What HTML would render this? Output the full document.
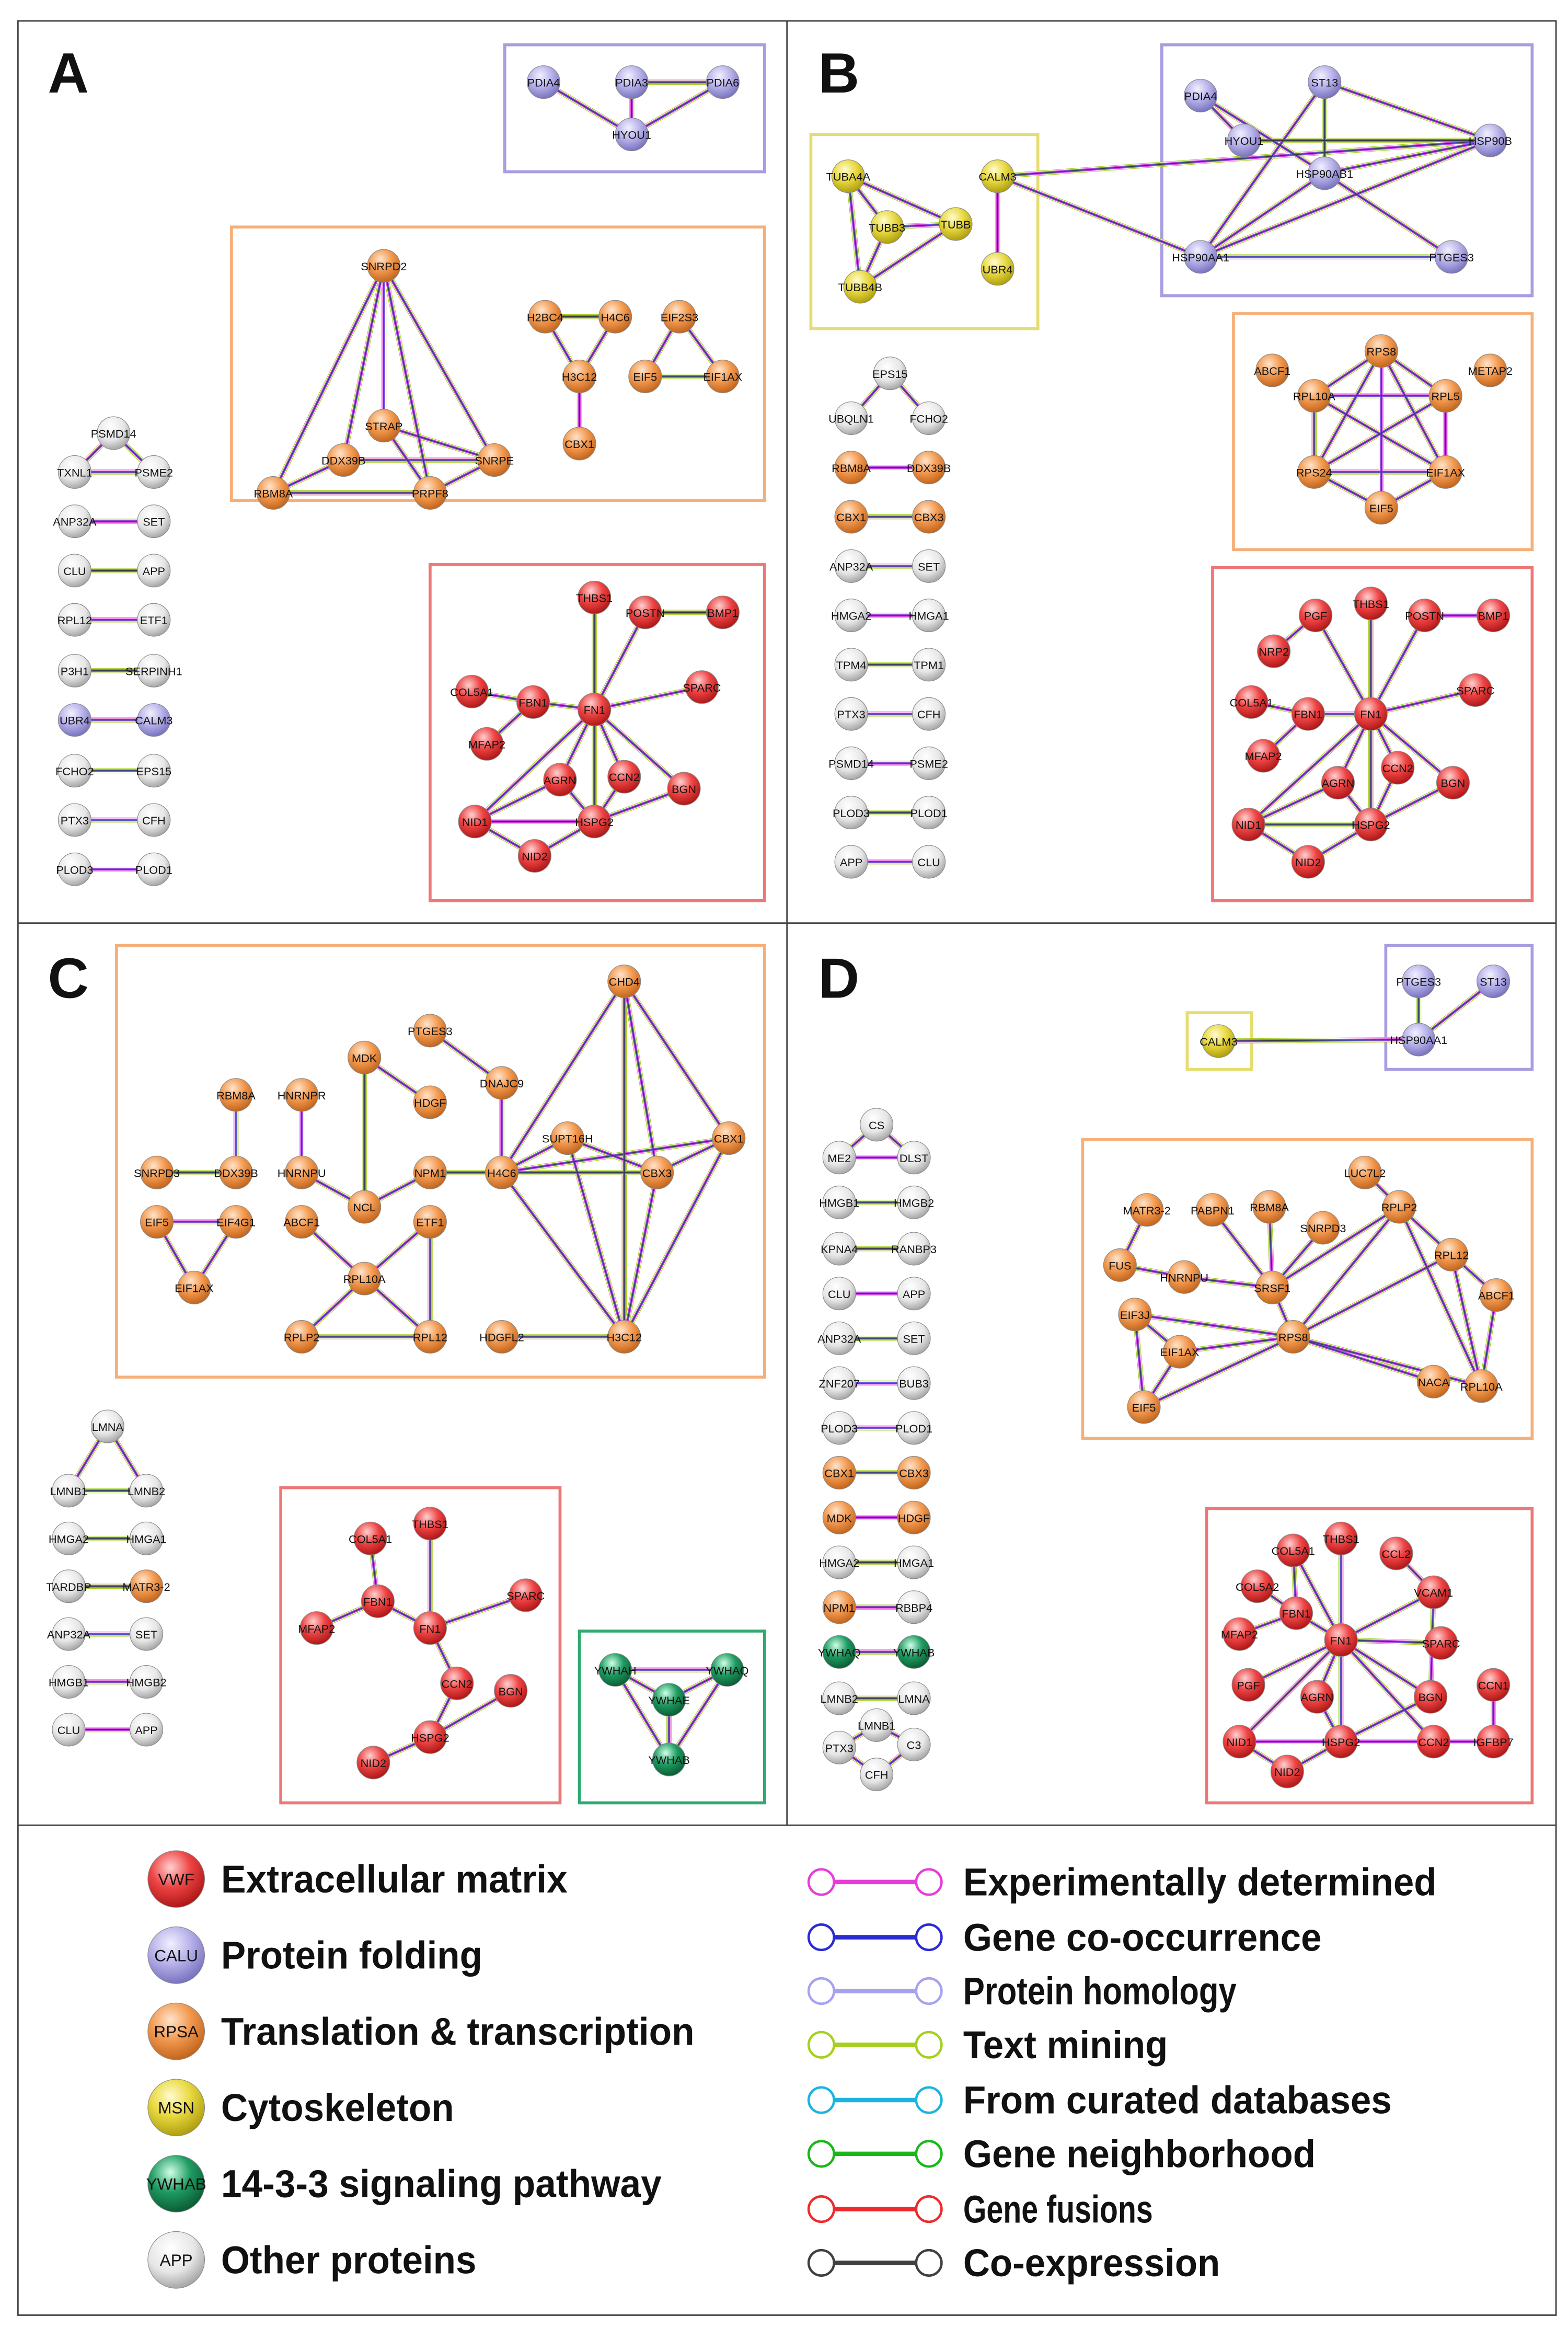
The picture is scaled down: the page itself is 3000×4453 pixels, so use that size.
<!DOCTYPE html>
<html><head><meta charset="utf-8"><style>
html,body{margin:0;padding:0;background:#fff}
svg{display:block}
text{font-family:"Liberation Sans",sans-serif;fill:#111}
.n text{font-size:7.6px;text-anchor:middle}
.r{fill:url(#gr)}.p{fill:url(#gp)}.o{fill:url(#go)}.y{fill:url(#gy)}.g{fill:url(#gg)}.w{fill:url(#gw)}
circle.nd{stroke:#888;stroke-width:.4}
.L{font-size:26px;font-weight:bold;font-family:"Liberation Sans Narrow","Liberation Sans",sans-serif}
.P{font-size:38px;font-weight:bold}
</style></head><body>
<svg width="3000" height="4453" viewBox="0 0 1050 1558.6" xmlns="http://www.w3.org/2000/svg">
<defs>
<radialGradient id="gr" cx="40%" cy="30%" r="70%"><stop offset="0" stop-color="#ffd0d0"/><stop offset=".5" stop-color="#ee4444"/><stop offset="1" stop-color="#b01818"/></radialGradient>
<radialGradient id="gp" cx="40%" cy="30%" r="70%"><stop offset="0" stop-color="#f2f0ff"/><stop offset=".5" stop-color="#b8b3ea"/><stop offset="1" stop-color="#7a74c0"/></radialGradient>
<radialGradient id="go" cx="40%" cy="30%" r="70%"><stop offset="0" stop-color="#ffe4cc"/><stop offset=".5" stop-color="#f39a50"/><stop offset="1" stop-color="#c4661e"/></radialGradient>
<radialGradient id="gy" cx="40%" cy="30%" r="70%"><stop offset="0" stop-color="#fffbd0"/><stop offset=".5" stop-color="#e9d940"/><stop offset="1" stop-color="#b0a010"/></radialGradient>
<radialGradient id="gg" cx="40%" cy="30%" r="70%"><stop offset="0" stop-color="#d0ffe8"/><stop offset=".5" stop-color="#1f9c62"/><stop offset="1" stop-color="#0b5e36"/></radialGradient>
<radialGradient id="gw" cx="40%" cy="30%" r="70%"><stop offset="0" stop-color="#ffffff"/><stop offset=".6" stop-color="#e6e6e6"/><stop offset="1" stop-color="#a8a8a8"/></radialGradient>
<path id="E" fill="none" d="
M423 55L484 55M364 55L423 90M484 55L423 90M423 55L423 90
M257 178L257 285M257 178L230 308M257 178L331 308M257 178L183 330M257 178L288 330M257 285L331 308M230 308L331 308M183 330L288 330M288 330L331 308M257 285L288 330M183 330L230 308
M365 212L412 212M365 212L388 252M412 212L388 252M388 252L388 297
M455 212L432 252M455 212L484 252M432 252L484 252
M398 475L398 400M398 475L432 410M432 410L484 410M398 475L470 460M398 475L357 470M357 470L316 463M357 470L326 498M398 475L375 522M398 475L418 520M398 475L458 528M398 475L318 550M398 475L398 550M318 550L398 550M318 550L358 573M358 573L398 550M375 522L398 550M398 550L458 528M418 520L398 550M318 550L375 522
M76 290L50 316M76 290L103 316M50 316L103 316M50 349L103 349M50 382L103 382M50 415L103 415M50 449L103 449M50 482L103 482M50 516L103 516M50 549L103 549M50 582L103 582
M804 64L833 94M833 94L998 94M887 55L998 94M887 55L887 116M887 55L804 172M887 116L998 94M804 172L998 94M804 172L887 116M804 172L972 172M887 116L972 172M804 64L887 116
M568 118L594 152M568 118L640 150M568 118L576 192M594 152L640 150M594 152L576 192M640 150L576 192M668 118L668 180M668 118L998 94M668 118L804 172
M925 235L880 265M925 235L968 265M925 235L880 316M925 235L968 316M925 235L925 340M880 265L968 265M880 265L880 316M880 265L968 316M968 265L968 316M968 265L880 316M880 316L968 316M880 316L925 340M968 316L925 340
M918 478L918 404M918 478L954 412M954 412L1000 412M918 478L881 412M881 412L853 436M918 478L988 462M918 478L876 478M876 478L838 470M876 478L846 506M918 478L896 524M918 478L936 514M918 478L973 524M918 478L836 552M918 478L918 552M836 552L918 552M836 552L876 577M876 577L918 552M896 524L918 552M918 552L973 524M936 514L918 552M836 552L896 524
M596 250L570 280M596 250L622 280M570 313L622 313M570 346L622 346M570 379L622 379M570 412L622 412M570 445L622 445M570 478L622 478M570 511L622 511M570 544L622 544M570 577L622 577
M158 733L158 785M105 785L158 785M105 818L158 818M105 818L130 862M158 818L130 862M202 733L202 785M202 785L244 808M244 708L244 808M244 708L288 738M288 690L336 725M336 725L336 785M244 808L288 785M288 785L336 785M336 785L418 657M336 785L380 762M336 785L440 785M336 785L418 895M418 657L440 785M418 657L488 762M418 657L418 895M488 762L440 785M488 762L418 895M440 785L418 895M380 762L418 895M380 762L440 785M336 895L418 895M202 818L244 856M288 818L244 856M288 818L288 895M244 856L202 895M244 856L288 895M202 895L288 895M336 785L488 762
M72 955L46 998M72 955L98 998M46 998L98 998M46 1030L98 1030M46 1062L98 1062M46 1094L98 1094M46 1126L98 1126M46 1158L98 1158
M288 1090L288 1020M288 1090L253 1072M253 1072L248 1030M253 1072L212 1090M288 1090L352 1068M288 1090L306 1127M306 1127L288 1163M342 1132L288 1163M288 1163L250 1180
M412 1118L487 1118M412 1118L448 1138M487 1118L448 1138M412 1118L448 1178M487 1118L448 1178M448 1138L448 1178
M950 657L950 696M1000 657L950 696M816 697L950 696
M852 862L812 810M852 862L850 808M852 862L886 822M852 862L793 855M852 862L937 808M852 862L866 895M793 855L750 847M750 847L768 810M914 785L937 808M937 808L972 840M937 808L866 895M937 808L992 928M972 840L1002 867M972 840L992 928M972 840L866 895M1002 867L992 928M866 895L760 880M866 895L790 905M866 895L766 942M866 895L960 925M866 895L992 928M760 880L790 905M760 880L766 942M790 905L766 942
M898 1098L898 1030M898 1098L866 1038M898 1098L868 1080M868 1080L866 1038M868 1080L842 1062M868 1080L830 1094M898 1098L965 1100M960 1066L935 1040M960 1066L958 1136M898 1098L882 1136M898 1098L958 1136M898 1098L830 1166M898 1098L898 1166M898 1098L960 1166M898 1098L836 1128M830 1166L898 1166M830 1166L862 1186M862 1186L898 1166M898 1166L958 1136M898 1166L960 1166M882 1136L898 1166M1000 1128L1000 1166M960 1166L1000 1166M960 1066L898 1098
M587 753L562 775M587 753L612 775M562 775L612 775M562 805L612 805M562 836L612 836M562 866L612 866M562 896L612 896M562 926L612 926M562 956L612 956M562 986L612 986M562 1016L612 1016M562 1046L612 1046M562 1076L612 1076M562 1106L612 1106M562 1137L612 1137M587 1155L562 1170M587 1155L612 1168M562 1170L587 1188M612 1168L587 1188"/>
</defs>
<rect x="0" y="0" width="1050" height="1558.6" fill="#fff"/>
<rect x="12" y="14" width="1030" height="1536" fill="none" stroke="#444" stroke-width="1"/>
<line x1="527" y1="14" x2="527" y2="1222" stroke="#444" stroke-width="1"/>
<line x1="12" y1="618" x2="1042" y2="618" stroke="#444" stroke-width="1"/>
<line x1="12" y1="1222" x2="1042" y2="1222" stroke="#444" stroke-width="1"/>
<text class="P" x="32" y="62">A</text><text class="P" x="548" y="62">B</text>
<text class="P" x="32" y="668">C</text><text class="P" x="548" y="668">D</text>
<g fill="none" stroke-width="2">
<rect x="338" y="30" width="174" height="85" stroke="#a79ee0"/>
<rect x="155" y="152" width="357" height="183" stroke="#f5b07a"/>
<rect x="288" y="378" width="224" height="225" stroke="#ee7878"/>
<rect x="778" y="30" width="248" height="168" stroke="#a79ee0"/>
<rect x="543" y="90" width="152" height="130" stroke="#e6dd70"/>
<rect x="826" y="210" width="200" height="158" stroke="#f5b07a"/>
<rect x="812" y="380" width="214" height="223" stroke="#ee7878"/>
<rect x="78" y="633" width="434" height="289" stroke="#f5b07a"/>
<rect x="188" y="996" width="187" height="211" stroke="#ee7878"/>
<rect x="388" y="1092" width="124" height="115" stroke="#2faa70"/>
<rect x="795" y="678" width="43" height="38" stroke="#e6dd70"/>
<rect x="928" y="633" width="98" height="83" stroke="#a79ee0"/>
<rect x="725" y="763" width="301" height="200" stroke="#f5b07a"/>
<rect x="808" y="1010" width="218" height="197" stroke="#ee7878"/>
</g>
<use href="#E" stroke="#a8d020" stroke-width="3.4"/>
<use href="#E" stroke="#ffffff" stroke-width="2.6"/>
<use href="#E" stroke="#e040d8" stroke-width="1.9"/>
<use href="#E" stroke="#5a58e0" stroke-width="1.1"/>
<use href="#E" stroke="#333" stroke-width=".4"/>
<g class="n">
<!-- A -->
<circle class="nd p" cx="364" cy="55" r="11"/><text x="364" y="58">PDIA4</text>
<circle class="nd p" cx="423" cy="55" r="11"/><text x="423" y="58">PDIA3</text>
<circle class="nd p" cx="484" cy="55" r="11"/><text x="484" y="58">PDIA6</text>
<circle class="nd p" cx="423" cy="90" r="11"/><text x="423" y="93">HYOU1</text>
<circle class="nd o" cx="257" cy="178" r="11"/><text x="257" y="181">SNRPD2</text>
<circle class="nd o" cx="257" cy="285" r="11"/><text x="257" y="288">STRAP</text>
<circle class="nd o" cx="230" cy="308" r="11"/><text x="230" y="311">DDX39B</text>
<circle class="nd o" cx="331" cy="308" r="11"/><text x="331" y="311">SNRPE</text>
<circle class="nd o" cx="183" cy="330" r="11"/><text x="183" y="333">RBM8A</text>
<circle class="nd o" cx="288" cy="330" r="11"/><text x="288" y="333">PRPF8</text>
<circle class="nd o" cx="365" cy="212" r="11"/><text x="365" y="215">H2BC4</text>
<circle class="nd o" cx="412" cy="212" r="11"/><text x="412" y="215">H4C6</text>
<circle class="nd o" cx="388" cy="252" r="11"/><text x="388" y="255">H3C12</text>
<circle class="nd o" cx="388" cy="297" r="11"/><text x="388" y="300">CBX1</text>
<circle class="nd o" cx="455" cy="212" r="11"/><text x="455" y="215">EIF2S3</text>
<circle class="nd o" cx="432" cy="252" r="11"/><text x="432" y="255">EIF5</text>
<circle class="nd o" cx="484" cy="252" r="11"/><text x="484" y="255">EIF1AX</text>
<circle class="nd r" cx="398" cy="400" r="11"/><text x="398" y="403">THBS1</text>
<circle class="nd r" cx="432" cy="410" r="11"/><text x="432" y="413">POSTN</text>
<circle class="nd r" cx="484" cy="410" r="11"/><text x="484" y="413">BMP1</text>
<circle class="nd r" cx="316" cy="463" r="11"/><text x="316" y="466">COL5A1</text>
<circle class="nd r" cx="357" cy="470" r="11"/><text x="357" y="473">FBN1</text>
<circle class="nd r" cx="398" cy="475" r="11"/><text x="398" y="478">FN1</text>
<circle class="nd r" cx="470" cy="460" r="11"/><text x="470" y="463">SPARC</text>
<circle class="nd r" cx="326" cy="498" r="11"/><text x="326" y="501">MFAP2</text>
<circle class="nd r" cx="375" cy="522" r="11"/><text x="375" y="525">AGRN</text>
<circle class="nd r" cx="418" cy="520" r="11"/><text x="418" y="523">CCN2</text>
<circle class="nd r" cx="458" cy="528" r="11"/><text x="458" y="531">BGN</text>
<circle class="nd r" cx="318" cy="550" r="11"/><text x="318" y="553">NID1</text>
<circle class="nd r" cx="398" cy="550" r="11"/><text x="398" y="553">HSPG2</text>
<circle class="nd r" cx="358" cy="573" r="11"/><text x="358" y="576">NID2</text>
<circle class="nd w" cx="76" cy="290" r="11"/><text x="76" y="293">PSMD14</text>
<circle class="nd w" cx="50" cy="316" r="11"/><text x="50" y="319">TXNL1</text>
<circle class="nd w" cx="103" cy="316" r="11"/><text x="103" y="319">PSME2</text>
<circle class="nd w" cx="50" cy="349" r="11"/><text x="50" y="352">ANP32A</text>
<circle class="nd w" cx="103" cy="349" r="11"/><text x="103" y="352">SET</text>
<circle class="nd w" cx="50" cy="382" r="11"/><text x="50" y="385">CLU</text>
<circle class="nd w" cx="103" cy="382" r="11"/><text x="103" y="385">APP</text>
<circle class="nd w" cx="50" cy="415" r="11"/><text x="50" y="418">RPL12</text>
<circle class="nd w" cx="103" cy="415" r="11"/><text x="103" y="418">ETF1</text>
<circle class="nd w" cx="50" cy="449" r="11"/><text x="50" y="452">P3H1</text>
<circle class="nd w" cx="103" cy="449" r="11"/><text x="103" y="452">SERPINH1</text>
<circle class="nd p" cx="50" cy="482" r="11"/><text x="50" y="485">UBR4</text>
<circle class="nd p" cx="103" cy="482" r="11"/><text x="103" y="485">CALM3</text>
<circle class="nd w" cx="50" cy="516" r="11"/><text x="50" y="519">FCHO2</text>
<circle class="nd w" cx="103" cy="516" r="11"/><text x="103" y="519">EPS15</text>
<circle class="nd w" cx="50" cy="549" r="11"/><text x="50" y="552">PTX3</text>
<circle class="nd w" cx="103" cy="549" r="11"/><text x="103" y="552">CFH</text>
<circle class="nd w" cx="50" cy="582" r="11"/><text x="50" y="585">PLOD3</text>
<circle class="nd w" cx="103" cy="582" r="11"/><text x="103" y="585">PLOD1</text>
<!-- B -->
<circle class="nd p" cx="804" cy="64" r="11"/><text x="804" y="67">PDIA4</text>
<circle class="nd p" cx="833" cy="94" r="11"/><text x="833" y="97">HYOU1</text>
<circle class="nd p" cx="887" cy="55" r="11"/><text x="887" y="58">ST13</text>
<circle class="nd p" cx="998" cy="94" r="11"/><text x="998" y="97">HSP90B</text>
<circle class="nd p" cx="887" cy="116" r="11"/><text x="887" y="119">HSP90AB1</text>
<circle class="nd p" cx="804" cy="172" r="11"/><text x="804" y="175">HSP90AA1</text>
<circle class="nd p" cx="972" cy="172" r="11"/><text x="972" y="175">PTGES3</text>
<circle class="nd y" cx="568" cy="118" r="11"/><text x="568" y="121">TUBA4A</text>
<circle class="nd y" cx="668" cy="118" r="11"/><text x="668" y="121">CALM3</text>
<circle class="nd y" cx="594" cy="152" r="11"/><text x="594" y="155">TUBB3</text>
<circle class="nd y" cx="640" cy="150" r="11"/><text x="640" y="153">TUBB</text>
<circle class="nd y" cx="668" cy="180" r="11"/><text x="668" y="183">UBR4</text>
<circle class="nd y" cx="576" cy="192" r="11"/><text x="576" y="195">TUBB4B</text>
<circle class="nd o" cx="925" cy="235" r="11"/><text x="925" y="238">RPS8</text>
<circle class="nd o" cx="852" cy="248" r="11"/><text x="852" y="251">ABCF1</text>
<circle class="nd o" cx="998" cy="248" r="11"/><text x="998" y="251">METAP2</text>
<circle class="nd o" cx="880" cy="265" r="11"/><text x="880" y="268">RPL10A</text>
<circle class="nd o" cx="968" cy="265" r="11"/><text x="968" y="268">RPL5</text>
<circle class="nd o" cx="880" cy="316" r="11"/><text x="880" y="319">RPS24</text>
<circle class="nd o" cx="968" cy="316" r="11"/><text x="968" y="319">EIF1AX</text>
<circle class="nd o" cx="925" cy="340" r="11"/><text x="925" y="343">EIF5</text>
<circle class="nd r" cx="881" cy="412" r="11"/><text x="881" y="415">PGF</text>
<circle class="nd r" cx="918" cy="404" r="11"/><text x="918" y="407">THBS1</text>
<circle class="nd r" cx="954" cy="412" r="11"/><text x="954" y="415">POSTN</text>
<circle class="nd r" cx="1000" cy="412" r="11"/><text x="1000" y="415">BMP1</text>
<circle class="nd r" cx="853" cy="436" r="11"/><text x="853" y="439">NRP2</text>
<circle class="nd r" cx="838" cy="470" r="11"/><text x="838" y="473">COL5A1</text>
<circle class="nd r" cx="876" cy="478" r="11"/><text x="876" y="481">FBN1</text>
<circle class="nd r" cx="918" cy="478" r="11"/><text x="918" y="481">FN1</text>
<circle class="nd r" cx="988" cy="462" r="11"/><text x="988" y="465">SPARC</text>
<circle class="nd r" cx="846" cy="506" r="11"/><text x="846" y="509">MFAP2</text>
<circle class="nd r" cx="896" cy="524" r="11"/><text x="896" y="527">AGRN</text>
<circle class="nd r" cx="936" cy="514" r="11"/><text x="936" y="517">CCN2</text>
<circle class="nd r" cx="973" cy="524" r="11"/><text x="973" y="527">BGN</text>
<circle class="nd r" cx="836" cy="552" r="11"/><text x="836" y="555">NID1</text>
<circle class="nd r" cx="918" cy="552" r="11"/><text x="918" y="555">HSPG2</text>
<circle class="nd r" cx="876" cy="577" r="11"/><text x="876" y="580">NID2</text>
<circle class="nd w" cx="596" cy="250" r="11"/><text x="596" y="253">EPS15</text>
<circle class="nd w" cx="570" cy="280" r="11"/><text x="570" y="283">UBQLN1</text>
<circle class="nd w" cx="622" cy="280" r="11"/><text x="622" y="283">FCHO2</text>
<circle class="nd o" cx="570" cy="313" r="11"/><text x="570" y="316">RBM8A</text>
<circle class="nd o" cx="622" cy="313" r="11"/><text x="622" y="316">DDX39B</text>
<circle class="nd o" cx="570" cy="346" r="11"/><text x="570" y="349">CBX1</text>
<circle class="nd o" cx="622" cy="346" r="11"/><text x="622" y="349">CBX3</text>
<circle class="nd w" cx="570" cy="379" r="11"/><text x="570" y="382">ANP32A</text>
<circle class="nd w" cx="622" cy="379" r="11"/><text x="622" y="382">SET</text>
<circle class="nd w" cx="570" cy="412" r="11"/><text x="570" y="415">HMGA2</text>
<circle class="nd w" cx="622" cy="412" r="11"/><text x="622" y="415">HMGA1</text>
<circle class="nd w" cx="570" cy="445" r="11"/><text x="570" y="448">TPM4</text>
<circle class="nd w" cx="622" cy="445" r="11"/><text x="622" y="448">TPM1</text>
<circle class="nd w" cx="570" cy="478" r="11"/><text x="570" y="481">PTX3</text>
<circle class="nd w" cx="622" cy="478" r="11"/><text x="622" y="481">CFH</text>
<circle class="nd w" cx="570" cy="511" r="11"/><text x="570" y="514">PSMD14</text>
<circle class="nd w" cx="622" cy="511" r="11"/><text x="622" y="514">PSME2</text>
<circle class="nd w" cx="570" cy="544" r="11"/><text x="570" y="547">PLOD3</text>
<circle class="nd w" cx="622" cy="544" r="11"/><text x="622" y="547">PLOD1</text>
<circle class="nd w" cx="570" cy="577" r="11"/><text x="570" y="580">APP</text>
<circle class="nd w" cx="622" cy="577" r="11"/><text x="622" y="580">CLU</text>
<!-- C -->
<circle class="nd o" cx="418" cy="657" r="11"/><text x="418" y="660">CHD4</text>
<circle class="nd o" cx="288" cy="690" r="11"/><text x="288" y="693">PTGES3</text>
<circle class="nd o" cx="244" cy="708" r="11"/><text x="244" y="711">MDK</text>
<circle class="nd o" cx="336" cy="725" r="11"/><text x="336" y="728">DNAJC9</text>
<circle class="nd o" cx="158" cy="733" r="11"/><text x="158" y="736">RBM8A</text>
<circle class="nd o" cx="202" cy="733" r="11"/><text x="202" y="736">HNRNPR</text>
<circle class="nd o" cx="288" cy="738" r="11"/><text x="288" y="741">HDGF</text>
<circle class="nd o" cx="380" cy="762" r="11"/><text x="380" y="765">SUPT16H</text>
<circle class="nd o" cx="488" cy="762" r="11"/><text x="488" y="765">CBX1</text>
<circle class="nd o" cx="105" cy="785" r="11"/><text x="105" y="788">SNRPD3</text>
<circle class="nd o" cx="158" cy="785" r="11"/><text x="158" y="788">DDX39B</text>
<circle class="nd o" cx="202" cy="785" r="11"/><text x="202" y="788">HNRNPU</text>
<circle class="nd o" cx="288" cy="785" r="11"/><text x="288" y="788">NPM1</text>
<circle class="nd o" cx="336" cy="785" r="11"/><text x="336" y="788">H4C6</text>
<circle class="nd o" cx="440" cy="785" r="11"/><text x="440" y="788">CBX3</text>
<circle class="nd o" cx="244" cy="808" r="11"/><text x="244" y="811">NCL</text>
<circle class="nd o" cx="105" cy="818" r="11"/><text x="105" y="821">EIF5</text>
<circle class="nd o" cx="158" cy="818" r="11"/><text x="158" y="821">EIF4G1</text>
<circle class="nd o" cx="202" cy="818" r="11"/><text x="202" y="821">ABCF1</text>
<circle class="nd o" cx="288" cy="818" r="11"/><text x="288" y="821">ETF1</text>
<circle class="nd o" cx="244" cy="856" r="11"/><text x="244" y="859">RPL10A</text>
<circle class="nd o" cx="130" cy="862" r="11"/><text x="130" y="865">EIF1AX</text>
<circle class="nd o" cx="202" cy="895" r="11"/><text x="202" y="898">RPLP2</text>
<circle class="nd o" cx="288" cy="895" r="11"/><text x="288" y="898">RPL12</text>
<circle class="nd o" cx="336" cy="895" r="11"/><text x="336" y="898">HDGFL2</text>
<circle class="nd o" cx="418" cy="895" r="11"/><text x="418" y="898">H3C12</text>
<circle class="nd w" cx="72" cy="955" r="11"/><text x="72" y="958">LMNA</text>
<circle class="nd w" cx="46" cy="998" r="11"/><text x="46" y="1001">LMNB1</text>
<circle class="nd w" cx="98" cy="998" r="11"/><text x="98" y="1001">LMNB2</text>
<circle class="nd w" cx="46" cy="1030" r="11"/><text x="46" y="1033">HMGA2</text>
<circle class="nd w" cx="98" cy="1030" r="11"/><text x="98" y="1033">HMGA1</text>
<circle class="nd w" cx="46" cy="1062" r="11"/><text x="46" y="1065">TARDBP</text>
<circle class="nd o" cx="98" cy="1062" r="11"/><text x="98" y="1065">MATR3-2</text>
<circle class="nd w" cx="46" cy="1094" r="11"/><text x="46" y="1097">ANP32A</text>
<circle class="nd w" cx="98" cy="1094" r="11"/><text x="98" y="1097">SET</text>
<circle class="nd w" cx="46" cy="1126" r="11"/><text x="46" y="1129">HMGB1</text>
<circle class="nd w" cx="98" cy="1126" r="11"/><text x="98" y="1129">HMGB2</text>
<circle class="nd w" cx="46" cy="1158" r="11"/><text x="46" y="1161">CLU</text>
<circle class="nd w" cx="98" cy="1158" r="11"/><text x="98" y="1161">APP</text>
<circle class="nd r" cx="288" cy="1020" r="11"/><text x="288" y="1023">THBS1</text>
<circle class="nd r" cx="248" cy="1030" r="11"/><text x="248" y="1033">COL5A1</text>
<circle class="nd r" cx="352" cy="1068" r="11"/><text x="352" y="1071">SPARC</text>
<circle class="nd r" cx="253" cy="1072" r="11"/><text x="253" y="1075">FBN1</text>
<circle class="nd r" cx="288" cy="1090" r="11"/><text x="288" y="1093">FN1</text>
<circle class="nd r" cx="212" cy="1090" r="11"/><text x="212" y="1093">MFAP2</text>
<circle class="nd r" cx="306" cy="1127" r="11"/><text x="306" y="1130">CCN2</text>
<circle class="nd r" cx="342" cy="1132" r="11"/><text x="342" y="1135">BGN</text>
<circle class="nd r" cx="288" cy="1163" r="11"/><text x="288" y="1166">HSPG2</text>
<circle class="nd r" cx="250" cy="1180" r="11"/><text x="250" y="1183">NID2</text>
<circle class="nd g" cx="412" cy="1118" r="11"/><text x="412" y="1121">YWHAH</text>
<circle class="nd g" cx="487" cy="1118" r="11"/><text x="487" y="1121">YWHAQ</text>
<circle class="nd g" cx="448" cy="1138" r="11"/><text x="448" y="1141">YWHAE</text>
<circle class="nd g" cx="448" cy="1178" r="11"/><text x="448" y="1181">YWHAB</text>
<!-- D -->
<circle class="nd y" cx="816" cy="697" r="11"/><text x="816" y="700">CALM3</text>
<circle class="nd p" cx="950" cy="657" r="11"/><text x="950" y="660">PTGES3</text>
<circle class="nd p" cx="1000" cy="657" r="11"/><text x="1000" y="660">ST13</text>
<circle class="nd p" cx="950" cy="696" r="11"/><text x="950" y="699">HSP90AA1</text>
<circle class="nd o" cx="914" cy="785" r="11"/><text x="914" y="788">LUC7L2</text>
<circle class="nd o" cx="768" cy="810" r="11"/><text x="768" y="813">MATR3-2</text>
<circle class="nd o" cx="812" cy="810" r="11"/><text x="812" y="813">PABPN1</text>
<circle class="nd o" cx="850" cy="808" r="11"/><text x="850" y="811">RBM8A</text>
<circle class="nd o" cx="886" cy="822" r="11"/><text x="886" y="825">SNRPD3</text>
<circle class="nd o" cx="937" cy="808" r="11"/><text x="937" y="811">RPLP2</text>
<circle class="nd o" cx="972" cy="840" r="11"/><text x="972" y="843">RPL12</text>
<circle class="nd o" cx="1002" cy="867" r="11"/><text x="1002" y="870">ABCF1</text>
<circle class="nd o" cx="750" cy="847" r="11"/><text x="750" y="850">FUS</text>
<circle class="nd o" cx="793" cy="855" r="11"/><text x="793" y="858">HNRNPU</text>
<circle class="nd o" cx="852" cy="862" r="11"/><text x="852" y="865">SRSF1</text>
<circle class="nd o" cx="760" cy="880" r="11"/><text x="760" y="883">EIF3J</text>
<circle class="nd o" cx="790" cy="905" r="11"/><text x="790" y="908">EIF1AX</text>
<circle class="nd o" cx="866" cy="895" r="11"/><text x="866" y="898">RPS8</text>
<circle class="nd o" cx="960" cy="925" r="11"/><text x="960" y="928">NACA</text>
<circle class="nd o" cx="992" cy="928" r="11"/><text x="992" y="931">RPL10A</text>
<circle class="nd o" cx="766" cy="942" r="11"/><text x="766" y="945">EIF5</text>
<circle class="nd r" cx="898" cy="1030" r="11"/><text x="898" y="1033">THBS1</text>
<circle class="nd r" cx="866" cy="1038" r="11"/><text x="866" y="1041">COL5A1</text>
<circle class="nd r" cx="935" cy="1040" r="11"/><text x="935" y="1043">CCL2</text>
<circle class="nd r" cx="842" cy="1062" r="11"/><text x="842" y="1065">COL5A2</text>
<circle class="nd r" cx="960" cy="1066" r="11"/><text x="960" y="1069">VCAM1</text>
<circle class="nd r" cx="868" cy="1080" r="11"/><text x="868" y="1083">FBN1</text>
<circle class="nd r" cx="830" cy="1094" r="11"/><text x="830" y="1097">MFAP2</text>
<circle class="nd r" cx="898" cy="1098" r="11"/><text x="898" y="1101">FN1</text>
<circle class="nd r" cx="965" cy="1100" r="11"/><text x="965" y="1103">SPARC</text>
<circle class="nd r" cx="836" cy="1128" r="11"/><text x="836" y="1131">PGF</text>
<circle class="nd r" cx="882" cy="1136" r="11"/><text x="882" y="1139">AGRN</text>
<circle class="nd r" cx="958" cy="1136" r="11"/><text x="958" y="1139">BGN</text>
<circle class="nd r" cx="1000" cy="1128" r="11"/><text x="1000" y="1131">CCN1</text>
<circle class="nd r" cx="830" cy="1166" r="11"/><text x="830" y="1169">NID1</text>
<circle class="nd r" cx="898" cy="1166" r="11"/><text x="898" y="1169">HSPG2</text>
<circle class="nd r" cx="960" cy="1166" r="11"/><text x="960" y="1169">CCN2</text>
<circle class="nd r" cx="1000" cy="1166" r="11"/><text x="1000" y="1169">IGFBP7</text>
<circle class="nd r" cx="862" cy="1186" r="11"/><text x="862" y="1189">NID2</text>
<circle class="nd w" cx="587" cy="753" r="11"/><text x="587" y="756">CS</text>
<circle class="nd w" cx="562" cy="775" r="11"/><text x="562" y="778">ME2</text>
<circle class="nd w" cx="612" cy="775" r="11"/><text x="612" y="778">DLST</text>
<circle class="nd w" cx="562" cy="805" r="11"/><text x="562" y="808">HMGB1</text>
<circle class="nd w" cx="612" cy="805" r="11"/><text x="612" y="808">HMGB2</text>
<circle class="nd w" cx="562" cy="836" r="11"/><text x="562" y="839">KPNA4</text>
<circle class="nd w" cx="612" cy="836" r="11"/><text x="612" y="839">RANBP3</text>
<circle class="nd w" cx="562" cy="866" r="11"/><text x="562" y="869">CLU</text>
<circle class="nd w" cx="612" cy="866" r="11"/><text x="612" y="869">APP</text>
<circle class="nd w" cx="562" cy="896" r="11"/><text x="562" y="899">ANP32A</text>
<circle class="nd w" cx="612" cy="896" r="11"/><text x="612" y="899">SET</text>
<circle class="nd w" cx="562" cy="926" r="11"/><text x="562" y="929">ZNF207</text>
<circle class="nd w" cx="612" cy="926" r="11"/><text x="612" y="929">BUB3</text>
<circle class="nd w" cx="562" cy="956" r="11"/><text x="562" y="959">PLOD3</text>
<circle class="nd w" cx="612" cy="956" r="11"/><text x="612" y="959">PLOD1</text>
<circle class="nd o" cx="562" cy="986" r="11"/><text x="562" y="989">CBX1</text>
<circle class="nd o" cx="612" cy="986" r="11"/><text x="612" y="989">CBX3</text>
<circle class="nd o" cx="562" cy="1016" r="11"/><text x="562" y="1019">MDK</text>
<circle class="nd o" cx="612" cy="1016" r="11"/><text x="612" y="1019">HDGF</text>
<circle class="nd w" cx="562" cy="1046" r="11"/><text x="562" y="1049">HMGA2</text>
<circle class="nd w" cx="612" cy="1046" r="11"/><text x="612" y="1049">HMGA1</text>
<circle class="nd o" cx="562" cy="1076" r="11"/><text x="562" y="1079">NPM1</text>
<circle class="nd w" cx="612" cy="1076" r="11"/><text x="612" y="1079">RBBP4</text>
<circle class="nd g" cx="562" cy="1106" r="11"/><text x="562" y="1109">YWHAQ</text>
<circle class="nd g" cx="612" cy="1106" r="11"/><text x="612" y="1109">YWHAB</text>
<circle class="nd w" cx="562" cy="1137" r="11"/><text x="562" y="1140">LMNB2</text>
<circle class="nd w" cx="612" cy="1137" r="11"/><text x="612" y="1140">LMNA</text>
<circle class="nd w" cx="587" cy="1155" r="11"/><text x="587" y="1158">LMNB1</text>
<circle class="nd w" cx="562" cy="1170" r="11"/><text x="562" y="1173">PTX3</text>
<circle class="nd w" cx="612" cy="1168" r="11"/><text x="612" y="1171">C3</text>
<circle class="nd w" cx="587" cy="1188" r="11"/><text x="587" y="1191">CFH</text>
</g>
<!-- Legend -->
<g style="font-size:11px;text-anchor:middle">
<circle class="nd r" cx="118" cy="1258" r="19"/><text x="118" y="1262">VWF</text>
<circle class="nd p" cx="118" cy="1309" r="19"/><text x="118" y="1313">CALU</text>
<circle class="nd o" cx="118" cy="1360" r="19"/><text x="118" y="1364">RPSA</text>
<circle class="nd y" cx="118" cy="1411" r="19"/><text x="118" y="1415">MSN</text>
<circle class="nd g" cx="118" cy="1462" r="19"/><text x="118" y="1466">YWHAB</text>
<circle class="nd w" cx="118" cy="1513" r="19"/><text x="118" y="1517">APP</text>
</g>
<text class="L" x="148" y="1267" textLength="232" lengthAdjust="spacingAndGlyphs">Extracellular matrix</text>
<text class="L" x="148" y="1318" textLength="175" lengthAdjust="spacingAndGlyphs">Protein folding</text>
<text class="L" x="148" y="1369" textLength="317" lengthAdjust="spacingAndGlyphs">Translation &amp; transcription</text>
<text class="L" x="148" y="1420" textLength="156" lengthAdjust="spacingAndGlyphs">Cytoskeleton</text>
<text class="L" x="148" y="1471" textLength="295" lengthAdjust="spacingAndGlyphs">14-3-3 signaling pathway</text>
<text class="L" x="148" y="1522" textLength="171" lengthAdjust="spacingAndGlyphs">Other proteins</text>
<g stroke-width="3" fill="#fff">
<line x1="550" y1="1260" x2="622" y2="1260" stroke="#e83cd8"/><circle cx="550" cy="1260" r="8.5" stroke="#e83cd8" stroke-width="1.6"/><circle cx="622" cy="1260" r="8.5" stroke="#e83cd8" stroke-width="1.6"/>
<line x1="550" y1="1297" x2="622" y2="1297" stroke="#2b2bd6"/><circle cx="550" cy="1297" r="8.5" stroke="#2b2bd6" stroke-width="1.6"/><circle cx="622" cy="1297" r="8.5" stroke="#2b2bd6" stroke-width="1.6"/>
<line x1="550" y1="1333" x2="622" y2="1333" stroke="#a6a2ee"/><circle cx="550" cy="1333" r="8.5" stroke="#a6a2ee" stroke-width="1.6"/><circle cx="622" cy="1333" r="8.5" stroke="#a6a2ee" stroke-width="1.6"/>
<line x1="550" y1="1369" x2="622" y2="1369" stroke="#a6d020"/><circle cx="550" cy="1369" r="8.5" stroke="#a6d020" stroke-width="1.6"/><circle cx="622" cy="1369" r="8.5" stroke="#a6d020" stroke-width="1.6"/>
<line x1="550" y1="1406" x2="622" y2="1406" stroke="#1ab4e0"/><circle cx="550" cy="1406" r="8.5" stroke="#1ab4e0" stroke-width="1.6"/><circle cx="622" cy="1406" r="8.5" stroke="#1ab4e0" stroke-width="1.6"/>
<line x1="550" y1="1442" x2="622" y2="1442" stroke="#18b818"/><circle cx="550" cy="1442" r="8.5" stroke="#18b818" stroke-width="1.6"/><circle cx="622" cy="1442" r="8.5" stroke="#18b818" stroke-width="1.6"/>
<line x1="550" y1="1479" x2="622" y2="1479" stroke="#ee2a2a"/><circle cx="550" cy="1479" r="8.5" stroke="#ee2a2a" stroke-width="1.6"/><circle cx="622" cy="1479" r="8.5" stroke="#ee2a2a" stroke-width="1.6"/>
<line x1="550" y1="1515" x2="622" y2="1515" stroke="#404040"/><circle cx="550" cy="1515" r="8.5" stroke="#404040" stroke-width="1.6"/><circle cx="622" cy="1515" r="8.5" stroke="#404040" stroke-width="1.6"/>
</g>
<text class="L" x="645" y="1269" textLength="317" lengthAdjust="spacingAndGlyphs">Experimentally determined</text>
<text class="L" x="645" y="1306" textLength="240" lengthAdjust="spacingAndGlyphs">Gene co-occurrence</text>
<text class="L" x="645" y="1342" textLength="183" lengthAdjust="spacingAndGlyphs">Protein homology</text>
<text class="L" x="645" y="1378" textLength="137" lengthAdjust="spacingAndGlyphs">Text mining</text>
<text class="L" x="645" y="1415" textLength="287" lengthAdjust="spacingAndGlyphs">From curated databases</text>
<text class="L" x="645" y="1451" textLength="236" lengthAdjust="spacingAndGlyphs">Gene neighborhood</text>
<text class="L" x="645" y="1488" textLength="127" lengthAdjust="spacingAndGlyphs">Gene fusions</text>
<text class="L" x="645" y="1524" textLength="172" lengthAdjust="spacingAndGlyphs">Co-expression</text>
</svg>
</body></html>
